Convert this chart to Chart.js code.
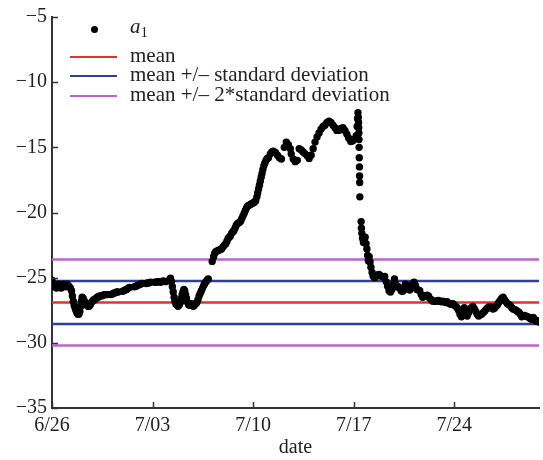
<!DOCTYPE html>
<html>
<head>
<meta charset="utf-8">
<script src="https://cdn.jsdelivr.net/npm/chart.js@4.4.1/dist/chart.umd.min.js"></script>
<style>
  html, body { margin: 0; padding: 0; background: #fff; }
  #wrap { position: relative; width: 543px; height: 460px; }
  #legend { position: absolute; left: 0; top: 0; font-family: "Liberation Serif", "Times New Roman", serif; font-size: 21px; color: #222; }
  .row { position: absolute; left: 70px; height: 20px; display: flex; align-items: center; white-space: nowrap; line-height: 20px; }
  .key { width: 47px; height: 2.5px; margin-right: 13px; position: relative; top: 2px; }
  .key.dot { height: 20px; top: 0; }
  .key.dot span { position: absolute; left: 21px; top: 7px; width: 7px; height: 7px; border-radius: 50%; background: #000; }
  sub { font-size: 15px; vertical-align: -4px; font-style: normal; }
</style>
</head>
<body>
<div id="wrap">
  <canvas id="chart" width="543" height="460"></canvas>
  <div id="legend"></div>
</div>
<script>
/* global Chart */

// day offset from 6/26 and measured a1 value
const a1Points = [
  [0.00, -25.2], [0.08, -25.5], [0.16, -25.7], [0.24, -25.6], [0.32, -25.8], [0.40, -25.7],
  [0.48, -25.5], [0.56, -25.6], [0.64, -25.8], [0.72, -25.7], [0.80, -25.5], [0.88, -25.6],
  [0.96, -25.7], [1.04, -25.5], [1.12, -25.6], [1.20, -25.7], [1.28, -25.8], [1.36, -26.0],
  [1.42, -26.4], [1.48, -26.8], [1.54, -27.1], [1.60, -27.3], [1.66, -27.5], [1.73, -27.7],
  [1.80, -27.8], [1.87, -27.8], [1.94, -27.6], [2.00, -27.2], [2.05, -26.8], [2.10, -26.5],
  [2.18, -26.6], [2.26, -26.8], [2.34, -27.0], [2.42, -27.1], [2.50, -27.2], [2.58, -27.2],
  [2.66, -27.1], [2.74, -26.9], [2.82, -26.8], [2.90, -26.7], [2.98, -26.7], [3.06, -26.6],
  [3.14, -26.5], [3.22, -26.5], [3.30, -26.4],
  [3.45, -26.4], [3.55, -26.35], [3.65, -26.3], [3.75, -26.3], [3.85, -26.3],
  [4.10, -26.3], [4.20, -26.25], [4.30, -26.2], [4.40, -26.15], [4.50, -26.1], [4.60, -26.1],
  [4.90, -26.05], [5.00, -26.0], [5.10, -25.95], [5.20, -25.9], [5.30, -25.8], [5.40, -25.75],
  [5.75, -25.7], [5.85, -25.65], [5.95, -25.6], [6.05, -25.55], [6.15, -25.5], [6.25, -25.45],
  [6.55, -25.45], [6.65, -25.4], [6.75, -25.4], [6.85, -25.35],
  [7.15, -25.35], [7.25, -25.35], [7.35, -25.3], [7.45, -25.3], [7.55, -25.35], [7.65, -25.3],
  [7.75, -25.25], [7.85, -25.3], [7.95, -25.3],
  [8.15, -25.2], [8.25, -25.05], [8.32, -25.3], [8.38, -25.7], [8.44, -26.1], [8.50, -26.5],
  [8.56, -26.8], [8.62, -27.0], [8.70, -27.1], [8.78, -27.2], [8.86, -27.1], [8.94, -26.9],
  [9.00, -26.6], [9.06, -26.3], [9.12, -26.1], [9.18, -25.9], [9.24, -26.0], [9.30, -26.3],
  [9.36, -26.6], [9.44, -26.9], [9.52, -27.1], [9.60, -27.1], [9.68, -27.0], [9.76, -27.1],
  [9.84, -27.2], [9.92, -27.1], [10.00, -27.0], [10.08, -26.9], [10.16, -26.7], [10.24, -26.4],
  [10.32, -26.2], [10.40, -26.0], [10.48, -25.8], [10.56, -25.6], [10.64, -25.45], [10.72, -25.3],
  [10.80, -25.2], [10.88, -25.1],
  [11.15, -23.75], [11.25, -23.4], [11.32, -23.15], [11.40, -23.0], [11.50, -22.95], [11.60, -22.9],
  [11.70, -22.85], [11.80, -22.8], [11.90, -22.65], [12.00, -22.5], [12.10, -22.4], [12.18, -22.2],
  [12.26, -22.0], [12.34, -21.9], [12.42, -21.8], [12.50, -21.6], [12.58, -21.5], [12.66, -21.4],
  [12.74, -21.2], [12.82, -21.0], [12.90, -20.85], [12.98, -20.8], [13.06, -20.75], [13.14, -20.65],
  [13.22, -20.45], [13.30, -20.25], [13.38, -20.05], [13.46, -19.85], [13.54, -19.65], [13.62, -19.5],
  [13.70, -19.45], [13.78, -19.4], [13.86, -19.35], [13.94, -19.3], [14.02, -19.25], [14.10, -19.2],
  [14.18, -19.1], [14.26, -18.8], [14.32, -18.5], [14.38, -18.2], [14.44, -17.9], [14.50, -17.6],
  [14.56, -17.3], [14.62, -17.0], [14.68, -16.7], [14.75, -16.4], [14.82, -16.2], [14.90, -16.0],
  [14.98, -15.85], [15.07, -15.8], [15.20, -15.5], [15.30, -15.35], [15.41, -15.3], [15.55, -15.4],
  [15.69, -15.6], [15.83, -15.8], [15.97, -15.9],
  [16.17, -15.0], [16.31, -14.6], [16.45, -14.8], [16.59, -15.1], [16.65, -15.5], [16.79, -15.9],
  [16.93, -16.1], [17.07, -16.0],
  [17.21, -15.1], [17.35, -15.2], [17.48, -15.35], [17.62, -15.5], [17.76, -15.65], [17.90, -15.85],
  [18.04, -15.6], [18.18, -15.1], [18.31, -14.6], [18.45, -14.2], [18.59, -13.9], [18.73, -13.6],
  [18.87, -13.4], [19.00, -13.3], [19.14, -13.1], [19.28, -13.0], [19.42, -13.1], [19.56, -13.3],
  [19.70, -13.5], [19.83, -13.7], [19.97, -13.7], [20.11, -13.55], [20.25, -13.5], [20.39, -13.7],
  [20.53, -14.0], [20.66, -14.3], [20.80, -14.55], [20.94, -14.5], [21.08, -14.35], [21.18, -14.1],
  [21.24, -13.4], [21.27, -12.8], [21.30, -12.35], [21.32, -12.7], [21.34, -13.1], [21.35, -13.5],
  [21.36, -13.9], [21.37, -14.4], [21.38, -15.0], [21.39, -15.8], [21.40, -16.5], [21.41, -17.2],
  [21.42, -17.7], [21.43, -18.8],
  [21.52, -20.7], [21.54, -21.2], [21.57, -21.6], [21.62, -22.0], [21.68, -22.3], [21.74, -22.1],
  [21.80, -21.9], [21.86, -22.4], [21.92, -22.8], [21.97, -23.3], [22.02, -23.7], [22.08, -23.4],
  [22.14, -23.8], [22.20, -24.2], [22.28, -24.6], [22.36, -24.9], [22.46, -25.0], [22.56, -24.9],
  [22.66, -24.8], [22.76, -24.75], [22.86, -24.85], [22.96, -24.9], [23.06, -24.95], [23.16, -24.9],
  [23.26, -25.3], [23.36, -25.65], [23.46, -26.0], [23.56, -26.1], [23.66, -25.9], [23.76, -25.5],
  [23.84, -25.1], [23.92, -25.5], [24.00, -25.7], [24.10, -25.7], [24.20, -25.8], [24.30, -26.0],
  [24.40, -26.05], [24.50, -25.95], [24.60, -25.5], [24.70, -25.6], [24.80, -25.75], [24.90, -25.95],
  [25.00, -25.8], [25.10, -25.5], [25.20, -25.35], [25.30, -25.6], [25.40, -25.9], [25.50, -25.95],
  [25.60, -26.0], [25.70, -26.3], [25.80, -26.5], [25.90, -26.4], [26.00, -26.4], [26.10, -26.35],
  [26.20, -26.4], [26.30, -26.6], [26.40, -26.7], [26.50, -26.8], [26.60, -26.8], [26.70, -26.8],
  [26.80, -26.8], [26.90, -26.75], [27.00, -26.8], [27.10, -26.85], [27.20, -26.8], [27.30, -26.85],
  [27.40, -26.9], [27.50, -26.85], [27.60, -26.95], [27.70, -27.0], [27.80, -27.05], [27.90, -27.0],
  [28.00, -27.1], [28.10, -27.2], [28.20, -27.3], [28.30, -27.5], [28.40, -27.8], [28.50, -28.0],
  [28.60, -27.6], [28.70, -27.3], [28.80, -27.7], [28.90, -27.95], [29.00, -27.7], [29.10, -27.4],
  [29.20, -27.3], [29.30, -27.2], [29.40, -27.4], [29.50, -27.6], [29.60, -27.8], [29.70, -27.95],
  [29.80, -27.85], [29.90, -27.8], [30.00, -27.7], [30.10, -27.6], [30.20, -27.45], [30.30, -27.35],
  [30.40, -27.25], [30.50, -27.3], [30.60, -27.25], [30.70, -27.4], [30.80, -27.35], [30.90, -27.2],
  [31.00, -27.1], [31.10, -26.9], [31.20, -26.75], [31.30, -26.6], [31.40, -26.5], [31.50, -26.7],
  [31.60, -26.85], [31.70, -27.0], [31.80, -27.05], [31.90, -27.15], [32.00, -27.3], [32.10, -27.4],
  [32.20, -27.45], [32.30, -27.5], [32.40, -27.6], [32.50, -27.65], [32.60, -27.8], [32.70, -28.0],
  [32.80, -27.95], [32.90, -27.9], [33.00, -27.95], [33.10, -28.0], [33.20, -28.05], [33.30, -28.15],
  [33.40, -28.2], [33.50, -28.05], [33.60, -28.2], [33.70, -28.35], [33.80, -28.3], [33.90, -28.4],
];

const meanValue = -26.9;
const stdValue = 1.65;

const dayMax = 33.9;
const dateTickDays = [0, 7, 14, 21, 28];
const dateTickLabels = ["6/26", "7/03", "7/10", "7/17", "7/24"];
const valueTicks = [-35, -30, -25, -20, -15, -10, -5];

const COLORS = {
  dots: "#000000",
  mean: "#e2322a",
  std: "#2d3e9c",
  std2: "#b866cc",
  axis: "#333333",
  text: "#222222",
};

const FONT = { family: '"Liberation Serif", "Times New Roman", serif', size: 20 };

function hline(y) {
  return [{ x: 0, y }, { x: dayMax, y }];
}

function lineSet(label, y, color) {
  return {
    type: "line",
    label,
    data: hline(y),
    borderColor: color,
    borderWidth: 2.5,
    pointRadius: 0,
    fill: false,
  };
}

function minusLabel(v) {
  return v < 0 ? "\u2212" + Math.abs(v) : String(v);
}

// inward tick marks on the left and bottom axes
const innerTicks = {
  id: "innerTicks",
  afterDraw(chart) {
    const { ctx, chartArea, scales } = chart;
    ctx.save();
    ctx.strokeStyle = COLORS.axis;
    ctx.lineWidth = 1.5;
    ctx.beginPath();
    valueTicks.forEach((v) => {
      const y = Math.round(scales.y.getPixelForValue(v)) + 0.5;
      ctx.moveTo(chartArea.left, y);
      ctx.lineTo(chartArea.left + 6, y);
    });
    dateTickDays.forEach((d) => {
      const x = Math.round(scales.x.getPixelForValue(d)) + 0.5;
      ctx.moveTo(x, chartArea.bottom);
      ctx.lineTo(x, chartArea.bottom - 6);
    });
    ctx.stroke();
    ctx.restore();
  },
};

const ctx = document.getElementById("chart").getContext("2d");
const chart = new Chart(ctx, {
  type: "scatter",
  data: {
    datasets: [
      {
        label: "a1",
        data: a1Points.map(([x, y]) => ({ x, y })),
        backgroundColor: COLORS.dots,
        borderWidth: 0,
        pointRadius: 3.7,
      },
      lineSet("mean", meanValue, COLORS.mean),
      lineSet("mean + standard deviation", meanValue + stdValue, COLORS.std),
      lineSet("mean - standard deviation", meanValue - stdValue, COLORS.std),
      lineSet("mean + 2*standard deviation", meanValue + 2 * stdValue, COLORS.std2),
      lineSet("mean - 2*standard deviation", meanValue - 2 * stdValue, COLORS.std2),
    ],
  },
  options: {
    responsive: false,
    animation: false,
    layout: { padding: { top: 17, right: 0, bottom: 0, left: 0 } },
    plugins: {
      legend: { display: false },
      tooltip: { enabled: false },
    },
    scales: {
      x: {
        type: "linear",
        min: 0,
        max: dayMax,
        afterBuildTicks: (scale) => {
          scale.ticks = dateTickDays.map((value) => ({ value }));
        },
        afterFit: (scale) => {
          scale.height = 52;
        },
        ticks: {
          autoSkip: false,
          maxRotation: 0,
          padding: 6,
          color: COLORS.text,
          font: FONT,
          callback: (v) => dateTickLabels[dateTickDays.indexOf(v)],
        },
        grid: { display: false, drawTicks: false },
        border: { display: true, color: COLORS.axis, width: 2 },
        title: {
          display: true,
          text: "date",
          color: COLORS.text,
          font: FONT,
          padding: { top: 0, bottom: 0 },
        },
      },
      y: {
        min: -35,
        max: -5,
        afterBuildTicks: (scale) => {
          scale.ticks = valueTicks.map((value) => ({ value }));
        },
        afterFit: (scale) => {
          scale.width = 52;
        },
        ticks: {
          padding: 5,
          color: COLORS.text,
          font: FONT,
          callback: (v) => minusLabel(v),
        },
        grid: { display: false, drawTicks: false },
        border: { display: true, color: COLORS.axis, width: 2 },
      },
    },
  },
  plugins: [innerTicks],
});

// legend rows, top to bottom
const legendRows = [
  { top: 19, kind: "dot", html: "<i>a</i><sub>1</sub>" },
  { top: 45, kind: "line", color: COLORS.mean, html: "mean" },
  { top: 64, kind: "line", color: COLORS.std, html: "mean +/\u2013 standard deviation" },
  { top: 84, kind: "line", color: COLORS.std2, html: "mean +/\u2013 2*standard deviation" },
];

document.getElementById("legend").innerHTML = legendRows
  .map((r) => {
    const key = r.kind === "dot"
      ? `<div class="key dot"><span></span></div>`
      : `<div class="key" style="background:${r.color}"></div>`;
    return `<div class="row" style="top:${r.top}px">${key}<div>${r.html}</div></div>`;
  })
  .join("");
</script>
</body>
</html>
